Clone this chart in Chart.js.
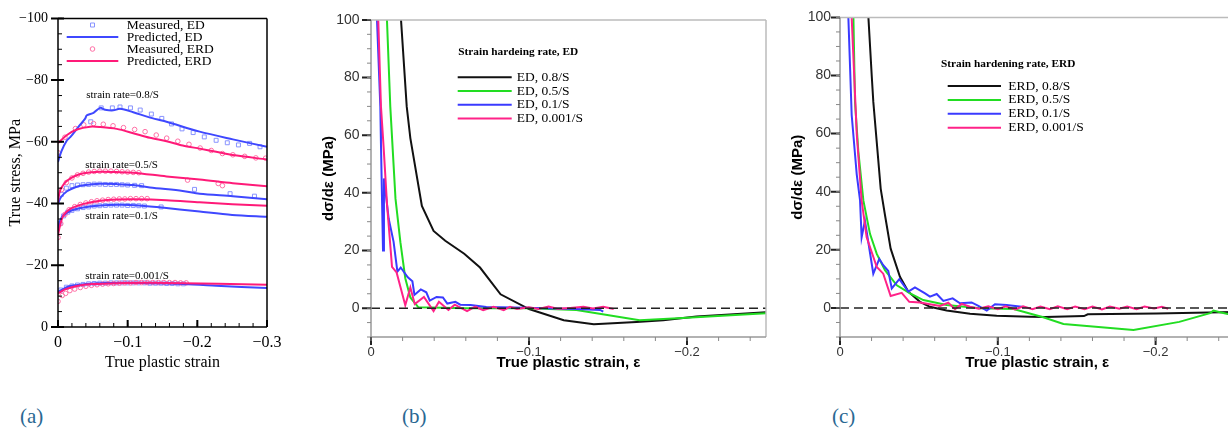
<!DOCTYPE html>
<html>
<head>
<meta charset="utf-8">
<script src="https://cdn.jsdelivr.net/npm/chart.js@4.4.0/dist/chart.umd.min.js"></script>
<style>
  html, body { margin: 0; padding: 0; background: #fff; overflow: hidden; }
  #page { position: relative; width: 1228px; height: 429px; overflow: hidden; }
  canvas { position: absolute; top: 0; }
  .tag { position: absolute; top: 404px; font: 21px "Liberation Serif", serif; color: #2a6892; }
</style>
</head>
<body>
<div id="page">
  <canvas id="chartA" width="290" height="386" style="left:0px"></canvas>
  <canvas id="chartB" width="480" height="380" style="left:300px"></canvas>
  <canvas id="chartC" width="480" height="380" style="left:770px"></canvas>
  <div class="tag" style="left:20px">(a)</div>
  <div class="tag" style="left:402px">(b)</div>
  <div class="tag" style="left:832px">(c)</div>
</div>
<script>
// ---- panel (a): true stress vs true plastic strain, [strain, stress] ----
const predEd08 = [[0,-53.5],[-0.005,-57],[-0.0129,-60.5],[-0.0176,-61.5],[-0.0295,-64.9],[-0.039,-67.5],[-0.0414,-68.6],[-0.051,-69.4],[-0.0604,-71],[-0.0676,-70.4],[-0.0794,-70.2],[-0.089,-70.7],[-0.108,-69.6],[-0.13,-68],[-0.1557,-66.5],[-0.2033,-63.3],[-0.251,-60.8],[-0.3,-58.4]];
const predErd08 = [[0,-59.6],[-0.0129,-62.2],[-0.0271,-64],[-0.046,-64.9],[-0.0604,-64.8],[-0.0843,-64.2],[-0.108,-62.8],[-0.1319,-61.3],[-0.1557,-60.2],[-0.179,-58.8],[-0.2033,-57.8],[-0.227,-56.8],[-0.2509,-55.7],[-0.3,-54.3]];
const predEd05 = [[0,-40],[-0.004,-42],[-0.0129,-44],[-0.025,-45.3],[-0.0366,-45.9],[-0.06,-46.4],[-0.0843,-46.3],[-0.108,-46],[-0.1319,-45.2],[-0.179,-44.1],[-0.2033,-43.2],[-0.2509,-42.4],[-0.3,-41.4]];
const predErd05 = [[0,-40.5],[-0.002,-43.5],[-0.006,-45.5],[-0.0129,-47.4],[-0.025,-49],[-0.0366,-49.8],[-0.0604,-50.3],[-0.084,-50.2],[-0.108,-50],[-0.1557,-48.8],[-0.2033,-47.8],[-0.2509,-46.6],[-0.3,-45.6]];
const predEd01 = [[0,-31.5],[-0.003,-34.5],[-0.008,-36.2],[-0.0176,-37.6],[-0.0366,-38.7],[-0.0604,-39.4],[-0.09,-39.6],[-0.12,-39.3],[-0.146,-38.8],[-0.2033,-37.4],[-0.25,-36.3],[-0.3,-35.7]];
const predErd01 = [[0,-29.8],[-0.003,-33],[-0.008,-36.2],[-0.0176,-38.3],[-0.0366,-39.9],[-0.06,-40.9],[-0.0843,-41.3],[-0.11,-41.4],[-0.1557,-41.1],[-0.2033,-40.4],[-0.25,-39.8],[-0.3,-39.3]];
const predEd0001 = [[0,-11.4],[-0.01,-12.6],[-0.0176,-13.3],[-0.04,-13.9],[-0.06,-14.2],[-0.1,-14.3],[-0.13,-14.2],[-0.18,-13.9],[-0.227,-13.4],[-0.3,-12.6]];
const predErd0001 = [[0,-10.9],[-0.01,-12.2],[-0.0271,-13.3],[-0.05,-13.9],[-0.0843,-14.2],[-0.13,-14.3],[-0.18,-14.2],[-0.23,-14],[-0.3,-13.7]];

const measEd08 = [[-0.047,-66.5],[-0.062,-71],[-0.078,-71],[-0.089,-71.3],[-0.104,-71],[-0.118,-70.3],[-0.134,-69],[-0.149,-67.6],[-0.163,-65.8],[-0.178,-64.2],[-0.194,-63],[-0.21,-61.6],[-0.227,-60.5],[-0.243,-59.7],[-0.259,-59],[-0.275,-59.5],[-0.29,-58.4]];
const measErd08 = [[0,-56.5],[-0.01,-61.5],[-0.025,-64.3],[-0.037,-65.5],[-0.051,-65.9],[-0.065,-65.7],[-0.079,-65.2],[-0.094,-64.6],[-0.11,-64],[-0.125,-63.3],[-0.141,-62.2],[-0.156,-61.2],[-0.172,-60.2],[-0.188,-59.2],[-0.204,-58],[-0.22,-57.2],[-0.236,-56.2],[-0.251,-55.8],[-0.268,-55.3],[-0.284,-54.8],[-0.298,-54.7]];
const measEd05 = [[-0.005,-43],[-0.012,-45],[-0.02,-45.8],[-0.028,-46],[-0.036,-46.1],[-0.044,-46.2],[-0.052,-46.3],[-0.06,-46.3],[-0.068,-46.2],[-0.076,-46.2],[-0.084,-46.2],[-0.092,-46.1],[-0.1,-46],[-0.11,-45.9],[-0.12,-45.8],[-0.196,-44.6],[-0.247,-43.2],[-0.282,-42.4]];
const measErd05 = [[-0.005,-44.5],[-0.012,-46.8],[-0.02,-48.3],[-0.028,-49.3],[-0.036,-49.8],[-0.044,-50.2],[-0.052,-50.4],[-0.06,-50.5],[-0.068,-50.5],[-0.076,-50.5],[-0.084,-50.4],[-0.092,-50.3],[-0.1,-50.2],[-0.108,-50.1],[-0.116,-50],[-0.186,-47.6],[-0.23,-46.5],[-0.236,-45.8]];
const measEd01 = [[-0.003,-33.5],[-0.008,-36],[-0.014,-37.2],[-0.02,-37.8],[-0.028,-38.3],[-0.036,-38.7],[-0.044,-38.9],[-0.052,-39.2],[-0.06,-39.3],[-0.068,-39.4],[-0.076,-39.5],[-0.084,-39.5],[-0.092,-39.5],[-0.1,-39.4],[-0.108,-39.4],[-0.116,-39.3],[-0.124,-39.2],[-0.148,-38.9]];
const measErd01 = [[0,-29],[-0.004,-33.5],[-0.01,-36.5],[-0.016,-38],[-0.024,-39],[-0.032,-39.7],[-0.04,-40.2],[-0.048,-40.6],[-0.056,-40.9],[-0.064,-41.1],[-0.072,-41.3],[-0.08,-41.4],[-0.088,-41.5],[-0.096,-41.5],[-0.104,-41.6],[-0.112,-41.6],[-0.12,-41.6],[-0.128,-41.6]];
const measEd0001 = [[-0.004,-12],[-0.012,-12.9],[-0.02,-13.3],[-0.028,-13.6],[-0.036,-13.8],[-0.044,-14],[-0.052,-14.1],[-0.06,-14.2],[-0.068,-14.2],[-0.076,-14.3],[-0.084,-14.3],[-0.092,-14.3],[-0.1,-14.3],[-0.108,-14.3],[-0.116,-14.3],[-0.124,-14.3],[-0.132,-14.2],[-0.14,-14.2],[-0.148,-14.2],[-0.156,-14.1],[-0.164,-14.1],[-0.172,-14],[-0.18,-14]];
const measErd0001 = [[0,-8.3],[-0.006,-10.2],[-0.011,-10.9],[-0.017,-11.8],[-0.024,-12.3],[-0.032,-12.8],[-0.04,-13.2],[-0.048,-13.5],[-0.056,-13.7],[-0.064,-13.9],[-0.072,-14],[-0.08,-14.1],[-0.088,-14.2],[-0.096,-14.3],[-0.104,-14.3],[-0.112,-14.4],[-0.12,-14.4],[-0.128,-14.4],[-0.136,-14.4],[-0.144,-14.4],[-0.152,-14.4],[-0.16,-14.4],[-0.168,-14.4],[-0.176,-14.3],[-0.184,-14.3]];

const rateNotes = [
  { text: 'strain rate=0.8/S', x: -0.0404, y: -75.1 },
  { text: 'strain rate=0.5/S', x: -0.039, y: -52.6 },
  { text: 'strain rate=0.1/S', x: -0.039, y: -35.8 },
  { text: 'strain rate=0.001/S', x: -0.039, y: -16.4 },
];

// ---- panel (b): strain hardening rate, ED, [strain, dσ/dε] ----
const rateEd08 = [[-0.0182,110],[-0.019,100],[-0.0226,70],[-0.0249,59],[-0.0322,35.5],[-0.0396,26.8],[-0.047,23.4],[-0.059,18.9],[-0.069,14.1],[-0.082,4.8],[-0.1,-0.3],[-0.122,-4.2],[-0.141,-5.6],[-0.168,-4.8],[-0.185,-4.2],[-0.206,-2.9],[-0.227,-2.2],[-0.25,-1.4]];
const rateEd05 = [[-0.0088,110],[-0.0101,100],[-0.0122,70],[-0.0155,38],[-0.0186,22.9],[-0.0217,10.4],[-0.0249,3.7],[-0.03,0.3],[-0.06,0],[-0.1,0],[-0.13,-0.6],[-0.17,-4.2],[-0.2,-3.3],[-0.25,-1.8]];
const rateEd01 = [[-0.0032,110],[-0.0038,100],[-0.0059,70],[-0.0063,57],[-0.0076,20],[-0.0082,45],[-0.0112,31],[-0.0143,23],[-0.0167,12.7],[-0.0188,14.1],[-0.0233,10.7],[-0.0262,9.3],[-0.0275,4.6],[-0.0315,6.5],[-0.035,5.5],[-0.0372,2.6],[-0.0415,3.9],[-0.0455,3.7],[-0.0483,1.6],[-0.0534,2.2],[-0.0565,1.2],[-0.063,1.1],[-0.073,0.4],[-0.09,0.2],[-0.11,0],[-0.13,-0.3],[-0.145,-0.6],[-0.147,-1.2]];
const rateEd0001 = [[-0.0042,110],[-0.0046,100],[-0.0063,70],[-0.008,55.7],[-0.0101,36.4],[-0.0133,14.3],[-0.0162,12.4],[-0.0217,1],[-0.0249,7.2],[-0.0277,1.4],[-0.0335,3.9],[-0.0396,-1],[-0.043,2.2],[-0.049,-0.6],[-0.053,1.2],[-0.0608,-1],[-0.066,0.5],[-0.071,-0.7],[-0.0776,0.5],[-0.084,-0.7],[-0.088,0.5],[-0.0924,-0.3],[-0.0998,0.3],[-0.106,-0.3],[-0.1124,0.6],[-0.118,-0.2],[-0.126,0.1],[-0.1345,0.5],[-0.1405,-0.1],[-0.147,0.5],[-0.1536,-0.3]];

// ---- panel (c): strain hardening rate, ERD ----
const rateErd08 = [[-0.0172,110],[-0.018,100],[-0.0201,80],[-0.0211,71],[-0.0233,57],[-0.0258,41],[-0.0285,32],[-0.0321,20.4],[-0.038,10.7],[-0.0433,5.6],[-0.0507,2.1],[-0.057,0.4],[-0.0676,-0.9],[-0.0824,-2],[-0.0993,-2.7],[-0.1204,-3],[-0.13,-3.1],[-0.1546,-2.8],[-0.157,-2.2],[-0.2006,-1.9],[-0.25,-1.4]];
const rateErd05 = [[-0.0078,110],[-0.0085,100],[-0.0095,71],[-0.0116,54],[-0.0148,37],[-0.019,25.5],[-0.0233,18.6],[-0.0285,13],[-0.036,7.8],[-0.0444,5],[-0.0528,2.7],[-0.0676,1],[-0.0887,-0.1],[-0.11,-0.4],[-0.1288,-3.2],[-0.1416,-5.5],[-0.186,-7.6],[-0.215,-4.8],[-0.2345,-1.8],[-0.2366,-0.9],[-0.2408,-1.5],[-0.25,-2.6]];
const rateErd01 = [[-0.0048,110],[-0.0053,100],[-0.0074,66.4],[-0.0106,46],[-0.0127,37],[-0.0137,24.3],[-0.0158,30],[-0.0211,11.8],[-0.0249,16.9],[-0.0274,14.7],[-0.0306,12.7],[-0.0328,6.7],[-0.0376,9.9],[-0.0433,5.6],[-0.0475,7.1],[-0.0539,5],[-0.057,3.9],[-0.0613,4.8],[-0.0655,2.4],[-0.0714,3.3],[-0.076,1.6],[-0.0834,1.9],[-0.0877,0.7],[-0.093,-0.9],[-0.0982,1.3],[-0.1056,1],[-0.1151,0.4],[-0.117,0.2]];
const rateErd0001 = [[-0.0068,110],[-0.0074,100],[-0.0106,60],[-0.0137,37],[-0.0169,24.3],[-0.0233,14.1],[-0.0274,11.8],[-0.0321,4.1],[-0.0391,5.2],[-0.0439,2.1],[-0.0507,1.9],[-0.057,1.3],[-0.0634,0.7],[-0.0686,1.8],[-0.0729,-0.4],[-0.0771,1.4],[-0.0824,0.4],[-0.088,-0.3],[-0.094,0.6],[-0.1,-0.4],[-0.105,0.6],[-0.111,-0.5],[-0.116,0.6],[-0.122,-0.4],[-0.127,0.5],[-0.133,-0.4],[-0.138,0.6],[-0.144,-0.4],[-0.149,0.5],[-0.155,-0.4],[-0.16,0.5],[-0.166,-0.5],[-0.171,0.5],[-0.177,-0.3],[-0.182,0.5],[-0.188,-0.4],[-0.193,0.5],[-0.199,-0.2],[-0.204,0.4],[-0.208,-0.3]];

const zeroLine = [[0,0],[-0.25,0]];

const legendA = ['Measured, ED', 'Predicted, ED', 'Measured, ERD', 'Predicted, ERD'];
const legendB = ['ED, 0.8/S', 'ED, 0.5/S', 'ED, 0.1/S', 'ED, 0.001/S'];
const legendC = ['ERD, 0.8/S', 'ERD, 0.5/S', 'ERD, 0.1/S', 'ERD, 0.001/S'];

const SERIF = '"Liberation Serif", "Times New Roman", serif';
const SANS = '"Liberation Sans", Arial, sans-serif';
const BLUE_A = '#3f48ff', PINK_A = '#ff1a78', BLUE_M = '#8893ff', PINK_M = '#ff6fa5';
const BLACK = '#111', GREEN = '#22dd22', BLUE = '#3a3aff', PINK = '#ff2288';

const pts = arr => arr.map(([x, y]) => ({ x, y }));
const minus = (v, d) => Math.abs(v) < 1e-9 ? '0' : (v < 0 ? '\u2212' : '') + Math.abs(v).toFixed(d);

const line = (arr, color, extra) => Object.assign({
  data: pts(arr), borderColor: color, borderWidth: 2, showLine: true,
  pointRadius: 0, fill: false, tension: 0,
}, extra);

const marks = (arr, color, style, r) => ({
  data: pts(arr), showLine: false, pointStyle: style, pointRadius: r,
  borderColor: color, borderWidth: 1, backgroundColor: 'rgba(0,0,0,0)',
});

// tick marks and frame lines, placed through the scales
const axisMarks = {
  id: 'axisMarks',
  afterDatasetsDraw(chart, args, o) {
    const { ctx, chartArea: a, scales } = chart;
    ctx.save();
    (o.frame || []).forEach(f => {
      ctx.strokeStyle = f.color;
      ctx.lineWidth = f.width;
      ctx.beginPath();
      if (f.side === 'top') { ctx.moveTo(a.left, a.top); ctx.lineTo(a.right, a.top); }
      if (f.side === 'bottom') { ctx.moveTo(a.left, a.bottom); ctx.lineTo(a.right, a.bottom); }
      if (f.side === 'left') { ctx.moveTo(a.left, a.top); ctx.lineTo(a.left, a.bottom); }
      if (f.side === 'right') { ctx.moveTo(a.right, a.top); ctx.lineTo(a.right, a.bottom); }
      ctx.stroke();
    });
    (o.ticks || []).forEach(t => {
      const sc = scales[t.axis];
      ctx.strokeStyle = t.color;
      ctx.lineWidth = t.width;
      ctx.beginPath();
      const n = Math.round((t.to - t.from) / t.step);
      for (let i = 0; i <= n; i++) {
        const p = sc.getPixelForValue(t.from + i * t.step);
        if (t.axis === 'x') { ctx.moveTo(p, a.bottom - t.inner); ctx.lineTo(p, a.bottom + t.outer); }
        else { ctx.moveTo(a.left - t.outer, p); ctx.lineTo(a.left + t.inner, p); }
      }
      ctx.stroke();
    });
    ctx.restore();
  }
};

// in-plot legend and notes
const legendBox = {
  id: 'legendBox',
  afterDraw(chart, args, o) {
    const ctx = chart.ctx;
    ctx.save();
    ctx.textBaseline = 'middle';
    ctx.textAlign = 'left';
    ctx.fillStyle = '#000';
    (o.notes || []).forEach(t => {
      ctx.font = o.noteFont;
      ctx.fillText(t.text, chart.scales.x.getPixelForValue(t.x), chart.scales.y.getPixelForValue(t.y));
    });
    if (o.title) {
      ctx.font = o.titleFont;
      ctx.fillText(o.title, o.titleX, o.titleY);
    }
    (o.items || []).forEach((it, i) => {
      const y = o.y + i * o.gap;
      ctx.strokeStyle = it.color;
      ctx.beginPath();
      if (it.marker === 'rect') { ctx.lineWidth = 1; ctx.rect(o.markX - 2, y - 2, 4, 4); }
      else if (it.marker === 'circle') { ctx.lineWidth = 1; ctx.arc(o.markX, y, 2.3, 0, Math.PI * 2); }
      else { ctx.lineWidth = 2; ctx.moveTo(o.lineX0, y); ctx.lineTo(o.lineX1, y); }
      ctx.stroke();
      ctx.font = o.font;
      ctx.fillStyle = '#000';
      ctx.fillText(it.label, o.textX, y);
    });
    ctx.restore();
  }
};

const base = () => ({
  responsive: false,
  animation: false,
  events: [],
  plugins: { legend: { display: false }, tooltip: { enabled: false } },
});

// ---------- (a) ----------
new Chart(document.getElementById('chartA'), {
  type: 'scatter',
  data: {
    datasets: [
      line(predErd08, PINK_A, { tension: 0.3 }), line(predEd08, BLUE_A, { tension: 0.3 }),
      line(predErd05, PINK_A, { tension: 0.3 }), line(predEd05, BLUE_A, { tension: 0.3 }),
      line(predErd01, PINK_A, { tension: 0.3 }), line(predEd01, BLUE_A, { tension: 0.3 }),
      line(predErd0001, PINK_A, { tension: 0.3 }), line(predEd0001, BLUE_A, { tension: 0.3 }),
      marks(measErd08, PINK_M, 'circle', 2.3), marks(measEd08, BLUE_M, 'rect', 2.8),
      marks(measErd05, PINK_M, 'circle', 2.3), marks(measEd05, BLUE_M, 'rect', 2.8),
      marks(measErd01, PINK_M, 'circle', 2.3), marks(measEd01, BLUE_M, 'rect', 2.8),
      marks(measErd0001, PINK_M, 'circle', 2.3), marks(measEd0001, BLUE_M, 'rect', 2.8),
    ]
  },
  options: Object.assign(base(), {
    layout: { padding: { top: 14, right: 23, left: 0, bottom: 0 } },
    scales: {
      x: {
        type: 'linear', min: -0.3, max: 0, reverse: true,
        afterFit: s => { s.height = 59; },
        grid: { display: false, drawTicks: false }, border: { display: false },
        ticks: { stepSize: 0.1, padding: 6, color: '#000', font: { family: SERIF, size: 16 }, callback: v => minus(v, 1) },
        title: { display: true, text: 'True plastic strain', color: '#000', font: { family: SERIF, size: 16 }, padding: { top: 0, bottom: 14 } }
      },
      y: {
        type: 'linear', min: -100, max: 0, reverse: true,
        afterFit: s => { s.width = 58; },
        grid: { display: false, drawTicks: false }, border: { display: false },
        ticks: { stepSize: 20, padding: 10, color: '#000', font: { family: SERIF, size: 14 }, callback: v => minus(v, 0) },
        title: { display: true, text: 'True stress, MPa', color: '#000', font: { family: SERIF, size: 16 }, padding: { top: 6, bottom: 0 } }
      }
    },
    plugins: Object.assign(base().plugins, {
      axisMarks: {
        frame: ['top', 'bottom', 'left', 'right'].map(side => ({ side, color: '#000', width: 1.5 })),
        ticks: [
          { axis: 'y', from: -100, to: 0, step: 20, inner: 6, outer: 7, color: '#000', width: 2 },
          { axis: 'y', from: -100, to: 0, step: 5, inner: 4, outer: 0, color: '#000', width: 1 },
          { axis: 'x', from: -0.3, to: 0, step: 0.1, inner: 7, outer: 0, color: '#000', width: 2 },
          { axis: 'x', from: -0.3, to: 0, step: 0.02, inner: 4, outer: 0, color: '#000', width: 1 },
        ]
      },
      legendBox: {
        notes: rateNotes, noteFont: '11px ' + SERIF,
        font: '13.5px ' + SERIF, y: 25, gap: 12, markX: 92.5, lineX0: 66.7, lineX1: 118.3, textX: 126.7,
        items: [
          { label: legendA[0], color: BLUE_M, marker: 'rect' },
          { label: legendA[1], color: BLUE_A },
          { label: legendA[2], color: PINK_M, marker: 'circle' },
          { label: legendA[3], color: PINK_A },
        ]
      }
    })
  }),
  plugins: [axisMarks, legendBox]
});

// ---------- (b) and (c) ----------
function rateChart(id, sets, names, lg, yWidth, padTop, padRight, yLabelPad, yTitlePad, xTitlePad) {
  return new Chart(document.getElementById(id), {
    type: 'scatter',
    data: {
      datasets: [
        line(zeroLine, '#222', { borderWidth: 1.5, borderDash: [9, 5] }),
        line(sets[3], PINK), line(sets[2], BLUE), line(sets[1], GREEN), line(sets[0], BLACK),
      ]
    },
    options: Object.assign(base(), {
      layout: { padding: { top: padTop, right: padRight, left: 0, bottom: 0 } },
      scales: {
        x: {
          type: 'linear', min: -0.25, max: 0, reverse: true,
          afterFit: s => { s.height = 43; },
          grid: { display: false, drawTicks: false }, border: { display: false },
          ticks: { stepSize: 0.1, includeBounds: false, padding: 8, color: '#333', font: { family: SANS, size: 13 }, callback: v => minus(v, 1) },
          title: { display: true, text: 'True plastic strain, \u03b5', color: '#000', font: { family: SANS, size: 15, weight: 'bold' }, padding: { top: 0, bottom: xTitlePad } }
        },
        y: {
          type: 'linear', min: -10, max: 100,
          afterFit: s => { s.width = yWidth; },
          grid: { display: false, drawTicks: false }, border: { display: false },
          ticks: { stepSize: 20, includeBounds: false, padding: yLabelPad, color: '#333', font: { family: SANS, size: 14 }, callback: v => minus(v, 0) },
          title: { display: true, text: 'd\u03c3/d\u03b5 (MPa)', color: '#000', font: { family: SANS, size: 15, weight: 'bold' }, padding: { top: yTitlePad, bottom: 0 } }
        }
      },
      plugins: Object.assign(base().plugins, {
        axisMarks: {
          frame: [
            { side: 'top', color: '#bbb', width: 1.5 }, { side: 'right', color: '#bbb', width: 1.5 },
            { side: 'left', color: '#999', width: 1.5 }, { side: 'bottom', color: '#999', width: 1.5 },
          ],
          ticks: [
            { axis: 'y', from: 0, to: 100, step: 20, inner: 0, outer: 9, color: '#222', width: 2 },
            { axis: 'y', from: -10, to: 100, step: 5, inner: 0, outer: 4, color: '#888', width: 1 },
            { axis: 'x', from: -0.2, to: 0, step: 0.1, inner: 0, outer: 8, color: '#222', width: 2 },
            { axis: 'x', from: -0.24, to: 0, step: 0.02, inner: 0, outer: 4, color: '#888', width: 1 },
          ]
        },
        legendBox: Object.assign({
          font: '13.5px ' + SERIF, titleFont: 'bold 11.3px ' + SERIF,
          items: names.map((label, i) => ({ label, color: [BLACK, GREEN, BLUE, PINK][i] }))
        }, lg)
      })
    }),
    plugins: [axisMarks, legendBox]
  });
}

rateChart('chartB', [rateEd08, rateEd05, rateEd01, rateEd0001], legendB,
  { title: 'Strain hardeing rate, ED', titleX: 158.3, titleY: 52.3, y: 77.3, gap: 13.7, lineX0: 157.7, lineX1: 211.7, textX: 216.7 },
  71, 13, 14, 11.5, 20, 8.3);

rateChart('chartC', [rateErd08, rateErd05, rateErd01, rateErd0001], legendC,
  { title: 'Strain hardening rate, ERD', titleX: 171, titleY: 64, y: 86, gap: 13.9, lineX0: 177.7, lineX1: 231, textX: 238.3 },
  70, 15, 15.5, 9, 19, 7.7);
</script>
</body>
</html>
